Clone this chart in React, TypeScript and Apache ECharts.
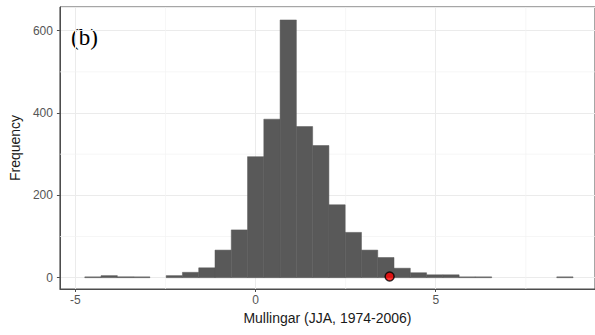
import React, { useEffect, useRef } from "react";
import * as echarts from "echarts";

// Histogram bins (ggplot-style, 30 bins)
const firstEdge = -4.74;
const binWidth = 0.4517;
const counts = [2, 5, 2, 2, 0, 5, 13, 24, 67, 116, 294, 385, 626, 367, 321, 177, 110, 67, 49, 23, 12, 7, 7, 2, 2, 0, 0, 0, 0, 2];
// Observed value marker
const observed = [[3.72, 3]];
// Axis ticks
const xTicks = [-5, 0, 5];
const yTicks = [0, 200, 400, 600];
const xMinorGrid = [-2.5, 2.5, 7.5];
const yMinorGrid = [100, 300, 500];

const FONT = "'Liberation Sans', Arial, sans-serif";
const MINOR = "#f2f2f2";

export default function App() {
  const ref = useRef<HTMLDivElement>(null);
  useEffect(() => {
    document.body.style.margin = "0";
    if (!ref.current) return;
    const chart = echarts.init(ref.current, undefined, { renderer: "svg" });
    const bins = counts
      .map((c, i) => [firstEdge + i * binWidth, firstEdge + (i + 1) * binWidth, c])
      .filter((d) => d[2] > 0);
    chart.setOption({
      animation: false,
      grid: {
        left: 58,
        top: 7,
        right: -2,
        bottom: 46,
        show: true,
        borderColor: "#4d4d4d",
        borderWidth: 1,
        backgroundColor: "#fff",
      },
      xAxis: {
        type: "value",
        min: -5.43,
        max: 9.42,
        splitNumber: 3,
        name: "Mullingar (JJA, 1974-2006)",
        nameLocation: "middle",
        nameGap: 21,
        nameTextStyle: { fontFamily: FONT, fontSize: 14, color: "#1a1a1a" },
        axisLine: { show: true, onZero: false, lineStyle: { color: "#4d4d4d", width: 1 } },
        axisTick: { show: true, length: 3, lineStyle: { color: "#4d4d4d" } },
        axisLabel: {
          fontFamily: FONT,
          fontSize: 12,
          color: "#555555",
          margin: 5,
          showMinLabel: false,
          showMaxLabel: false,
          formatter: (v: number) => (xTicks.includes(v) ? String(v) : ""),
        },
        splitLine: { show: true, lineStyle: { color: "#ebebeb", width: 1 } },
      },
      yAxis: {
        type: "value",
        min: -27.5,
        max: 657.5,
        splitNumber: 3,
        name: "Frequency",
        nameLocation: "middle",
        nameGap: 36,
        nameTextStyle: { fontFamily: FONT, fontSize: 14, color: "#1a1a1a" },
        axisLine: { show: true, onZero: false, lineStyle: { color: "#4d4d4d", width: 1 } },
        axisTick: { show: true, length: 3, lineStyle: { color: "#4d4d4d" } },
        axisLabel: {
          fontFamily: FONT,
          fontSize: 12,
          color: "#555555",
          margin: 7,
          showMinLabel: false,
          showMaxLabel: false,
          formatter: (v: number) => (yTicks.includes(v) ? String(v) : ""),
        },
        splitLine: { show: true, lineStyle: { color: "#ebebeb", width: 1 } },
      },
      series: [
        {
          type: "custom",
          z: 1,
          silent: true,
          data: yMinorGrid.map((v) => [0, v]),
          encode: { x: 0, y: 1 },
          renderItem: (params: any, api: any) => {
            const cs = params.coordSys;
            const p = api.coord([api.value(0), api.value(1)]);
            return {
              type: "line",
              shape: { x1: cs.x, y1: p[1], x2: cs.x + cs.width, y2: p[1] },
              style: { stroke: MINOR, lineWidth: 0.7 },
            };
          },
        },
        {
          type: "custom",
          z: 1,
          silent: true,
          data: xMinorGrid.map((v) => [v, 0]),
          encode: { x: 0, y: 1 },
          renderItem: (params: any, api: any) => {
            const cs = params.coordSys;
            const p = api.coord([api.value(0), api.value(1)]);
            return {
              type: "line",
              shape: { x1: p[0], y1: cs.y, x2: p[0], y2: cs.y + cs.height },
              style: { stroke: MINOR, lineWidth: 0.7 },
            };
          },
        },
        {
          type: "custom",
          z: 2,
          data: bins,
          encode: { x: [0, 1], y: 2 },
          renderItem: (params: any, api: any) => {
            const p0 = api.coord([api.value(0), api.value(2)]);
            const p1 = api.coord([api.value(1), 0]);
            return {
              type: "rect",
              shape: { x: p0[0], y: p0[1], width: p1[0] - p0[0], height: p1[1] - p0[1] },
              style: { fill: "#595959", stroke: "#595959", lineWidth: 0.5 },
            };
          },
        },
        {
          type: "scatter",
          z: 3,
          data: observed,
          symbolSize: 9,
          itemStyle: { color: "#ff0000", borderColor: "#000", borderWidth: 1.5 },
        },
      ],
      graphic: [
        {
          type: "text",
          x: 71,
          y: 37,
          style: {
            text: "(b)",
            fontFamily: "'Liberation Serif', 'Times New Roman', serif",
            fontSize: 23,
            fill: "#000",
            textVerticalAlign: "middle",
          },
        },
      ],
    });
    return () => chart.dispose();
  }, []);
  return <div ref={ref} style={{ width: 595, height: 335 }} />;
}
